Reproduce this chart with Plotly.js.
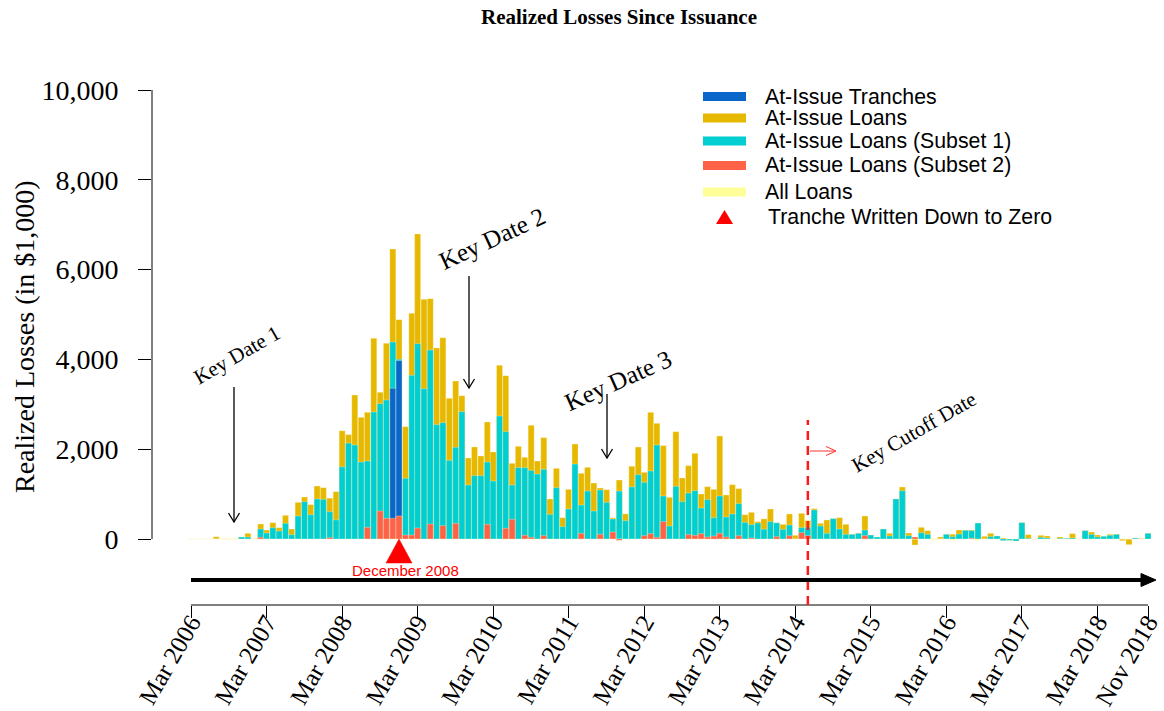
<!DOCTYPE html>
<html>
<head>
<meta charset="utf-8">
<script src="https://cdn.plot.ly/plotly-3.0.1.min.js"></script>
<style>html,body{margin:0;padding:0;background:#fff;}#chart{width:1164px;height:711px;}</style>
</head>
<body>
<div id="chart"></div>
<script>
// ---- DATA (monthly, starting Mar 2006, 153 months to Nov 2018) ----
const startYear = 2006, startMonth = 3, monthCount = 153;

// At-Issue Loans (realized losses, $1,000)
const atIssueLoans = [
  0,0,0,0,50,0,0,0,45,126,
  0,334,200,364,252,527,223,816,935,765,
  1180,1143,910,1054,2410,2325,3207,2710,2821,4469,
  3267,4358,6459,4885,2502,5026,6793,5338,5353,4254,
  4484,3133,3519,3192,1804,2050,1849,2606,1938,3868,
  3638,1685,2064,1819,2532,1737,2257,891,1574,475,
  1106,2116,1463,1596,1247,1136,1099,470,1314,560,
  1620,2049,1485,2821,2576,2079,928,2390,1359,1633,
  1908,1002,1166,1106,2294,980,1210,1121,542,594,
  386,449,668,360,327,557,82,572,408,676,
  349,423,453,475,327,104,126,512,89,45,
  223,126,891,1158,134,-134,260,186,0,45,
  104,104,200,193,200,356,59,126,67,22,
  -30,-45,364,97,0,82,67,0,45,15,
  119,0,186,156,89,59,104,104,-37,-126,
  22,15,126
];
// At-Issue Loans (Subset 1)
const subset1 = [
  0,0,0,0,0,0,0,0,45,45,
  0,223,134,252,178,349,97,512,831,542,
  891,883,609,427,1608,2135,2094,1715,1737,2829,
  3014,3096,4388,4002,1351,3645,4350,3348,4209,2546,
  2591,1752,2042,2836,1203,1411,1411,1715,1292,2739,
  2391,1203,1589,1589,1529,1448,1552,549,1143,275,
  668,1670,757,1069,624,1091,817,445,1069,408,
  1160,1433,1262,1514,2094,958,290,1173,831,1024,
  1076,690,876,475,958,490,557,787,371,319,
  356,219,386,360,215,312,0,252,260,646,
  290,126,453,223,104,104,126,200,89,45,
  223,67,891,1076,74,0,141,104,0,0,
  104,52,111,193,186,356,0,52,67,-37,
  -30,-45,364,15,0,37,22,0,15,15,
  22,0,186,104,45,59,82,104,0,0,
  22,0,126
];
// At-Issue Loans (Subset 2): month, value
const subset2Months = ['2007-02','2008-01','2008-07','2008-09','2008-10','2008-11','2008-12','2009-01','2009-02','2009-03','2009-05','2009-07','2009-09','2010-02','2010-05','2010-06','2010-08','2010-09','2010-11','2011-05','2011-08','2011-10','2011-11','2012-03','2012-04','2012-05','2012-06','2012-10','2012-11','2012-12','2013-01','2013-02','2013-03','2013-04','2013-06','2013-08','2013-12','2014-02','2014-04','2014-05','2015-02','2015-10','2016-07'];
const subset2Values = [37,30,260,624,460,460,512,89,89,245,334,297,349,327,238,438,82,37,74,126,104,155,-30,74,119,37,386,97,82,119,45,67,126,45,74,22,52,74,141,74,74,45,15];
// At-Issue Tranches
const trancheMonths = ['2008-11','2008-12'];
const trancheValues = [3356, 3972];
// All Loans
const allLoansMonths = ['2006-08','2006-09','2006-10','2007-01','2016-01','2016-04','2016-08'];
const allLoansValues = [15,15,15,10,-30,-30,-30];
// Tranche written down to zero
const writeDownMonths = ['2008-12'];
const writeDownLabels = ['December 2008'];

const xTickVals = ['2006-03-01','2007-03-01','2008-03-01','2009-03-01','2010-03-01','2011-03-01','2012-03-01','2013-03-01','2014-03-01','2015-03-01','2016-03-01','2017-03-01','2018-03-01','2018-11-01'];
const xTickText = ['Mar 2006','Mar 2007','Mar 2008','Mar 2009','Mar 2010','Mar 2011','Mar 2012','Mar 2013','Mar 2014','Mar 2015','Mar 2016','Mar 2017','Mar 2018','Nov 2018'];
const yTickVals = [0,2000,4000,6000,8000,10000];
const yTickText = ['0','2,000','4,000','6,000','8,000','10,000'];
const cutoffDate = '2014-05-01';

// ---- BUILD ----
function pad(n){return (n<10?'0':'')+n;}
const months = [];
for (let i=0;i<monthCount;i++){
  const m0 = startMonth-1+i;
  months.push((startYear+Math.floor(m0/12))+'-'+pad(m0%12+1)+'-01');
}
const d = m => m + '-01';

const colors = {tr:'#0A66C8', loans:'#E6B800', s1:'#00CED1', s2:'#FF6347', all:'#FFFF99'};
const serif = 'Liberation Serif, Times New Roman, serif';
const sans = 'Liberation Sans, Arial, sans-serif';
const barW = 29*86400000;
const edge = {color:'rgba(255,250,215,0.55)', width:0.6};

function bar(x,y,color){
  return {type:'bar', x:x, y:y, width:barW, marker:{color:color, line:edge}, showlegend:false, hoverinfo:'x+y'};
}
const traces = [
  bar(allLoansMonths.map(d), allLoansValues, colors.all),
  bar(months, atIssueLoans, colors.loans),
  bar(months, subset1, colors.s1),
  bar(trancheMonths.map(d), trancheValues, colors.tr),
  bar(subset2Months.map(d), subset2Values, colors.s2)
];

// plot area geometry
const L=152, R=2, T=80, B=106, W=1164-L-R, H=711-T-B;
const PX = x => (x-L)/W, PY = y => (711-B-y)/H;

// x range: Mar 2006 at 191px, Nov 2018 at 1148px
const t0 = Date.UTC(2006,2,1), t1 = Date.UTC(2018,10,1);
const pxPerMs = (1148-191)/(t1-t0);
const xr = [t0-(191-L)/pxPerMs, t1+(1164-R-1148)/pxPerMs];
// y range: 0 at 539px, 10000 at 90px
const pxPerUnit = (539-90)/10000;
const yr = [-(711-B-539)/pxPerUnit, 10000+(90-T)/pxPerUnit];

const shapes = [];
const ann = [];
// y axis line (0 to 10000)
shapes.push({type:'line', xref:'paper', yref:'y', x0:0, x1:0, y0:0, y1:10000, line:{color:'#000', width:1}});
// x axis line
shapes.push({type:'line', xref:'x', yref:'paper', x0:xTickVals[0], x1:xTickVals[xTickVals.length-1], y0:0, y1:0, line:{color:'#000', width:1}});
// cutoff dashed line
shapes.push({type:'line', xref:'x', yref:'paper', x0:cutoffDate, x1:cutoffDate, y0:0, y1:PY(420), line:{color:'#FF1A1A', width:2.5, dash:'9px,6px'}});
// red small arrow
shapes.push({type:'line', xref:'paper', yref:'paper', x0:PX(810), x1:PX(835), y0:PY(451), y1:PY(451), line:{color:'#FF3030', width:1}});
shapes.push({type:'path', xref:'paper', yref:'paper', path:`M${PX(826)},${PY(446.5)} L${PX(836)},${PY(451)} L${PX(826)},${PY(455.5)}`, line:{color:'#FF3030', width:1}, fillcolor:'rgba(0,0,0,0)'});
// timeline arrow
shapes.push({type:'line', xref:'paper', yref:'paper', x0:PX(191), x1:PX(1144), y0:PY(580), y1:PY(580), line:{color:'#000', width:4}});
shapes.push({type:'path', xref:'paper', yref:'paper', path:`M${PX(1141)},${PY(573.5)} L${PX(1156)},${PY(580)} L${PX(1141)},${PY(586.5)} Z`, fillcolor:'#000', line:{color:'#000', width:1}});
// key date arrows
[[234,387,522],[469,276,388],[607,394,458]].forEach(a=>{
  shapes.push({type:'line', xref:'paper', yref:'paper', x0:PX(a[0]), x1:PX(a[0]), y0:PY(a[1]), y1:PY(a[2]), line:{color:'#000', width:1.3}});
  shapes.push({type:'path', xref:'paper', yref:'paper', path:`M${PX(a[0]-5.5)},${PY(a[2]-9)} L${PX(a[0])},${PY(a[2])} L${PX(a[0]+5.5)},${PY(a[2]-9)}`, line:{color:'#000', width:1.3}, fillcolor:'rgba(0,0,0,0)'});
});
// write-down triangles
writeDownMonths.forEach((m,i)=>{
  shapes.push({type:'path', xref:'x', yref:'y', xsizemode:'pixel', ysizemode:'pixel', xanchor:d(m), yanchor:0,
    path:'M-13,-24 L13,-24 L0,0 Z', fillcolor:'#FF0000', line:{color:'#FF0000', width:0.5}});
  ann.push({xref:'x', yref:'paper', x:d(m), y:PY(570), text:writeDownLabels[i], showarrow:false, xanchor:'center', yanchor:'middle', xshift:6, font:{family:sans, size:15, color:'#FF0000'}});
});
// key date texts
[['Key Date 1',237,355,21,-30],['Key Date 2',492,238,25,-25],['Key Date 3',618,380,25,-24],['Key Cutoff Date',914,432,21,-30]].forEach(k=>{
  ann.push({xref:'paper', yref:'paper', x:PX(k[1]), y:PY(k[2]), text:k[0], showarrow:false, textangle:k[4], xanchor:'center', yanchor:'middle', font:{family:serif, size:k[3], color:'#000'}});
});
// y title
ann.push({xref:'paper', yref:'paper', x:PX(24), y:PY(337), text:'Realized Losses (in $1,000)', showarrow:false, textangle:-90, xanchor:'center', yanchor:'middle', font:{family:serif, size:28, color:'#000'}});
// manual legend
const legendItems = [
  ['At-Issue Tranches', colors.tr, 96.5],
  ['At-Issue Loans', colors.loans, 118],
  ['At-Issue Loans (Subset 1)', colors.s1, 141],
  ['At-Issue Loans (Subset 2)', colors.s2, 165.5],
  ['All Loans', colors.all, 192]
];
legendItems.forEach(it=>{
  shapes.push({type:'rect', xref:'paper', yref:'paper', x0:PX(703), x1:PX(746), y0:PY(it[2]-4.5), y1:PY(it[2]+4.5), fillcolor:it[1], line:{width:0}});
  ann.push({xref:'paper', yref:'paper', x:PX(763), y:PY(it[2]), text:it[0], showarrow:false, xanchor:'left', yanchor:'middle', font:{family:sans, size:21.3, color:'#000'}});
});
shapes.push({type:'path', xref:'paper', yref:'paper', path:`M${PX(716)},${PY(224)} L${PX(733)},${PY(224)} L${PX(724.5)},${PY(210)} Z`, fillcolor:'#FF0000', line:{width:0}});
ann.push({xref:'paper', yref:'paper', x:PX(766), y:PY(217), text:'Tranche Written Down to Zero', showarrow:false, xanchor:'left', yanchor:'middle', font:{family:sans, size:21.3, color:'#000'}});

const layout = {
  width:1164, height:711,
  margin:{l:L, r:R, t:T, b:B, pad:0},
  paper_bgcolor:'#fff', plot_bgcolor:'#fff',
  barmode:'overlay', showlegend:false,
  title:{text:'<b>Realized Losses Since Issuance</b>', font:{family:serif, size:21, color:'#000'}, x:619/1164, xanchor:'center', xref:'container', yref:'container', y:1-17/711, yanchor:'middle'},
  xaxis:{type:'date', range:xr, tickvals:xTickVals, ticktext:xTickText, tickangle:-60, ticks:'outside', ticklen:12, tickwidth:1, tickcolor:'#000', ticklabelstandoff:-20,
    tickfont:{family:serif, size:25, color:'#000'}, showgrid:false, zeroline:false, showline:false, automargin:false, fixedrange:true},
  yaxis:{range:yr, tickvals:yTickVals, ticktext:yTickText, ticks:'outside', ticklen:13, tickwidth:1, tickcolor:'#000', ticklabelstandoff:14,
    tickfont:{family:serif, size:28, color:'#000'}, showgrid:false, zeroline:false, showline:false, automargin:false, fixedrange:true},
  shapes:shapes, annotations:ann
};
Plotly.newPlot('chart', traces, layout, {displayModeBar:false, staticPlot:true});
</script>
</body>
</html>
